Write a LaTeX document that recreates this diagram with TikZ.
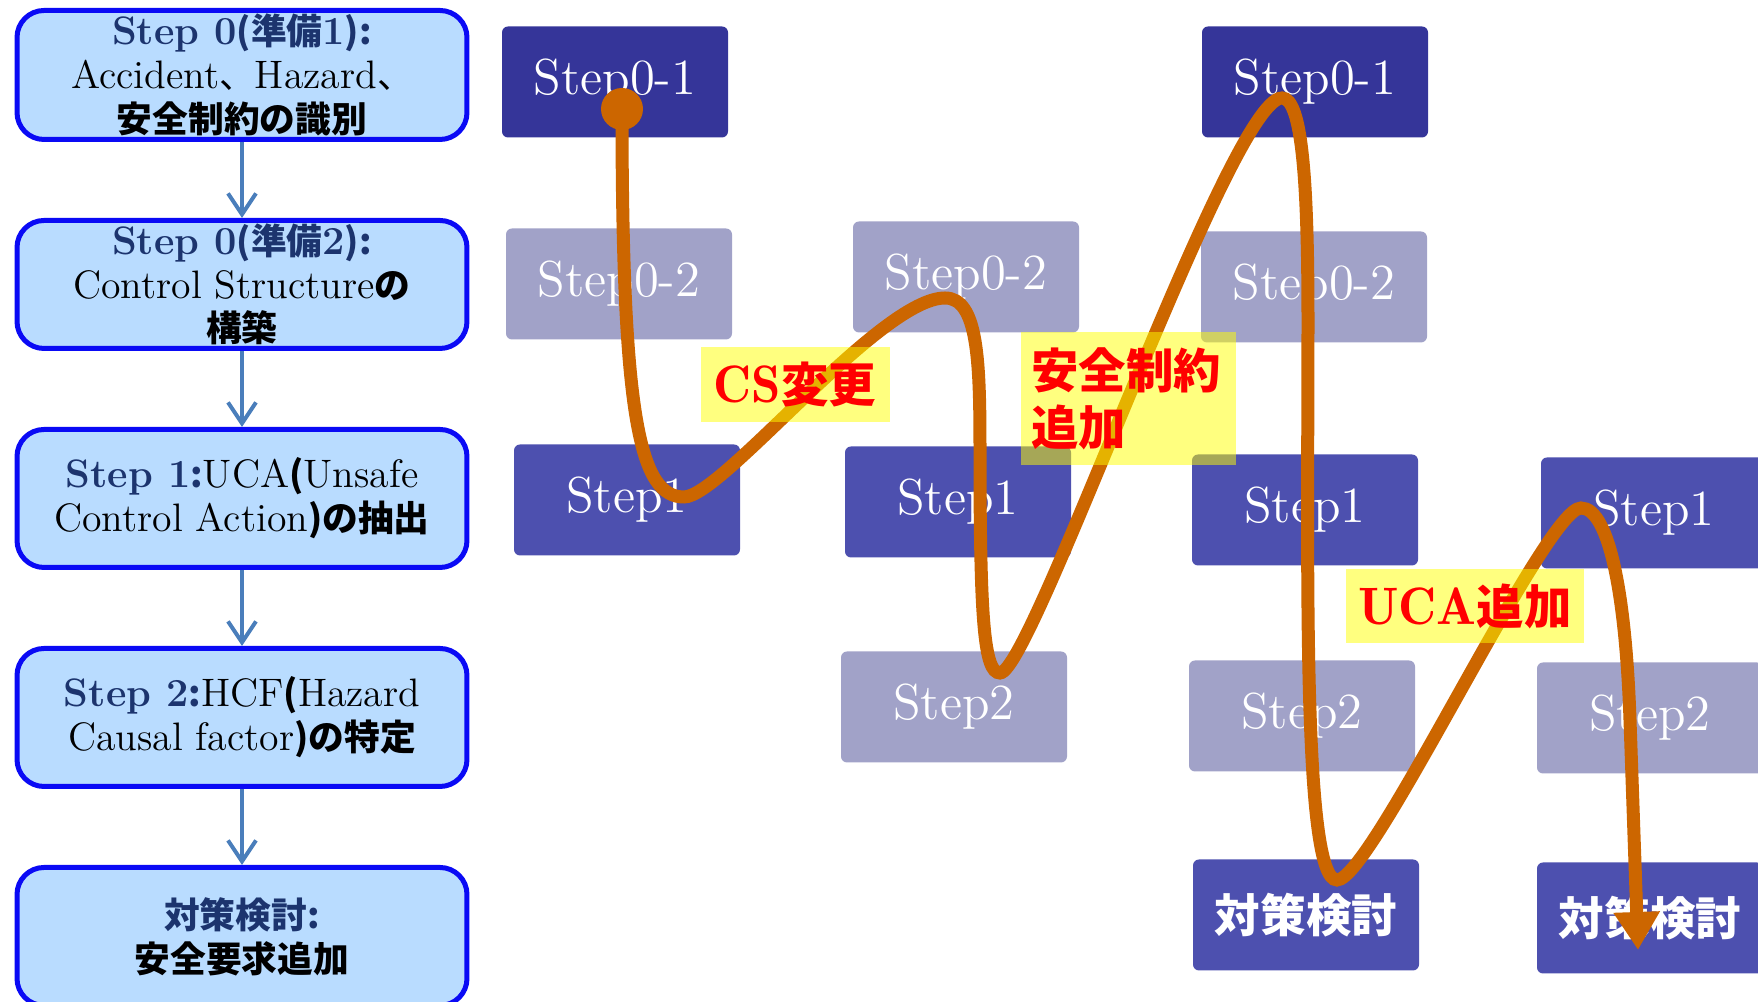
\documentclass[tikz,border=0pt]{standalone}
\usepackage{fontspec}
\usepackage{tikz}
\usetikzlibrary{positioning,arrows.meta}
\newfontfamily\jp{Noto Sans CJK JP}[Scale=0.9]
\newcommand\jb[1]{{\jp\bfseries #1}}
\definecolor{colorphase}    {RGB}{185,220,255}
\definecolor{colorphaseline}{RGB}{10 ,10 ,245}
\definecolor{colortitle}    {RGB}{28 ,52 ,110}
\definecolor{colorflow}     {RGB}{74 ,126,187}
\definecolor{colorstepa}    {RGB}{53 ,53 ,153}
\definecolor{colorstep}     {RGB}{77 ,80 ,175}
\definecolor{colorstepb}    {RGB}{161,162,200}
\definecolor{colorroute}    {RGB}{204,102,0  }
\definecolor{colornote}     {RGB}{255,255,0  }
\definecolor{colornotetext} {RGB}{255,0  ,0  }

\begin{document}
\begin{tikzpicture}[
    x=0.1mm, y=-0.1mm,
    base/.style={text=white,font={\fontsize{14.4}{17}\selectfont},inner sep=0pt,align=center,rectangle},
    stepnode/.style={base,rounded corners=0.6mm,minimum width=22.6mm,minimum height=11.1mm},
    phase/.style={base,text=black,font={\fontsize{11.3}{12.45}\selectfont},draw=colorphaseline,line width=0.5mm,fill=colorphase,rounded corners=2.7mm,minimum width=45mm},
    note/.style={base,text=colornotetext,font={\fontsize{15}{16.4}\selectfont},fill=colornote,fill opacity=0.5,text opacity=1},
    flow/.style={draw=colorflow,line width=0.4mm,-{Straight Barb[length=2.1mm,width=2.8mm]}},
    route/.style={draw=colorroute,line width=1.3mm,-{Triangle[length=3.8mm,width=4.4mm]}},
    dotmark/.style={circle,fill=colorroute,minimum size=4.2mm,inner sep=0pt},
]

    \useasboundingbox (0,0) rectangle (1758,1002);

    % Phases
    \node[phase,minimum height=12.9mm] (phase0a) at (242,75)
        {{\color{colortitle}\bfseries Step 0\jb{(準備}1\jb{):}}\\Accident{\jp 、}Hazard{\jp 、}\\\jb{安全制約の識別}};
    \node[phase,minimum height=12.8mm,below=7.6mm of phase0a] (phase0b)
        {{\color{colortitle}\bfseries Step 0\jb{(準備}2\jb{):}}\\Control Structure\jb{の}\\\jb{構築}};
    \node[phase,minimum height=13.8mm,below=7.6mm of phase0b] (phase1)
        {{\color{colortitle}\bfseries Step 1\jb{:}}UCA\jb{(}Unsafe\\Control Action\jb{)の抽出}};
    \node[phase,minimum height=13.8mm,below=7.6mm of phase1] (phase2)
        {{\color{colortitle}\bfseries Step 2\jb{:}}HCF\jb{(}Hazard\\Causal factor\jb{)の特定}};
    \node[phase,minimum height=13.8mm,below=7.6mm of phase2] (phase3)
        {{\color{colortitle}\jb{対策検討:}}\\\jb{安全要求追加}};
    \draw[flow] (phase0a) -- (phase0b);
    \draw[flow] (phase0b) -- (phase1);
    \draw[flow] (phase1) -- (phase2);
    \draw[flow] (phase2) -- (phase3);

    % Steps
    \node[stepnode,fill=colorstepa] (sa01) at (615,82)   {Step0-1};
    \node[stepnode,fill=colorstepb] (sa02) at (619,284)  {Step0-2};
    \node[stepnode,fill=colorstep]  (sa1)  at (627,500)  {Step1};
    \node[stepnode,fill=colorstepb] (sb02) at (966,277)  {Step0-2};
    \node[stepnode,fill=colorstep]  (sb1)  at (958,502)  {Step1};
    \node[stepnode,fill=colorstepb] (sb2)  at (954,707)  {Step2};
    \node[stepnode,fill=colorstepa] (sc01) at (1315,82)  {Step0-1};
    \node[stepnode,fill=colorstepb] (sc02) at (1314,287) {Step0-2};
    \node[stepnode,fill=colorstep]  (sc1)  at (1305,510) {Step1};
    \node[stepnode,fill=colorstepb] (sc2)  at (1302,716) {Step2};
    \node[stepnode,fill=colorstep]  (sc3)  at (1306,915) {\jb{対策検討}};
    \node[stepnode,fill=colorstep]  (sd1)  at (1654,513) {Step1};
    \node[stepnode,fill=colorstepb] (sd2)  at (1650,718) {Step2};
    \node[stepnode,fill=colorstep]  (sd3)  at (1650,918) {\jb{対策検討}};

    % Route
    \node[dotmark] (start) at (622,109) {};
    \coordinate (tip) at (1638,950);
    \draw[route] (start.center)
        .. controls (622,420) and (640,497) .. (684,497)
        .. controls (722,497) and (880,298) .. (945,298)
        .. controls (978,298) and (980,360) .. (980,450)
        .. controls (980,620) and (984,673) .. (1000,673)
        .. controls (1032,673) and (1230,98) .. (1282,98)
        .. controls (1302,98) and (1308,180) .. (1308,320)
        .. controls (1308,560) and (1302,880) .. (1337,880)
        .. controls (1372,880) and (1545,508) .. (1581,508)
        .. controls (1610,508) and (1626,600) .. (1630,720)
        -- (tip);

    % Notes
    \node[note,minimum width=18.9mm,minimum height=7.5mm] (notecs) at (795,385)
        {{\fontseries{b}\selectfont CS}\jb{変更}};
    \node[note,minimum height=13.3mm,text width=19.3mm,inner sep=1.1mm,align=left] (notesafe) at (1128,399)
        {\jb{安全制約}\\\jb{追加}};
    \node[note,minimum width=23.8mm,minimum height=7.4mm] (noteuca) at (1465,606)
        {{\fontseries{b}\selectfont UCA}\jb{追加}};

\end{tikzpicture}
\end{document}
